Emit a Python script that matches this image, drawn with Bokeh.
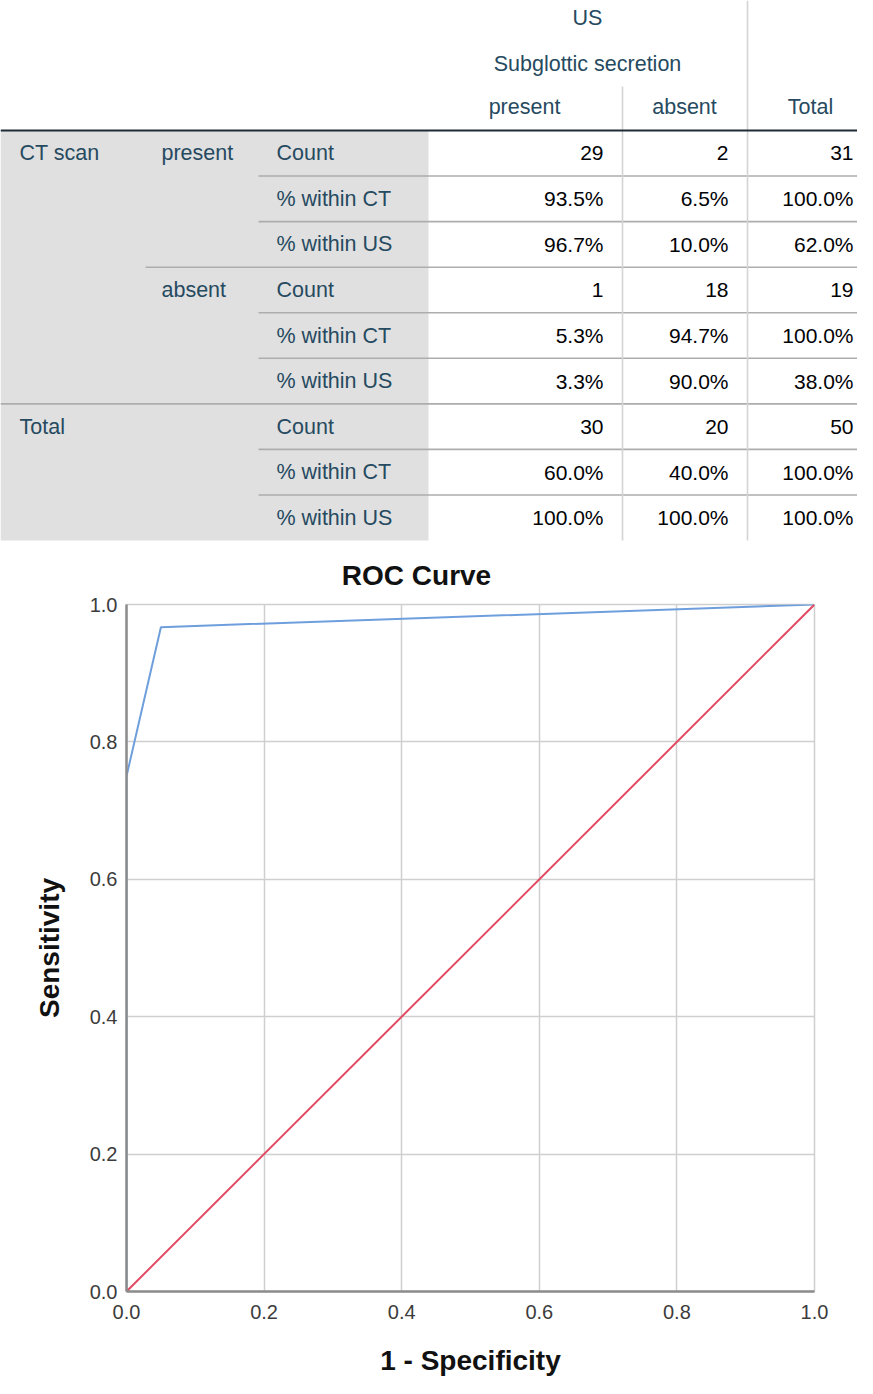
from bokeh.plotting import figure
from bokeh.layouts import column
from bokeh.models import Range1d, FixedTicker, NumeralTickFormatter
from bokeh.core.properties import value
from bokeh.embed import file_html
from bokeh.resources import INLINE

# ---------------- data ----------------
us_title = "US"
us_variable = "Subglottic secretion"
col_labels = ["present", "absent", "Total"]
row_var = "CT scan"
row_groups = ["present", "absent", "Total"]
stat_labels = ["Count", "% within CT", "% within US"]
counts = [[29, 2, 31], [1, 18, 19], [30, 20, 50]]
pct_within_ct = [[93.5, 6.5, 100.0], [5.3, 94.7, 100.0], [60.0, 40.0, 100.0]]
pct_within_us = [[96.7, 10.0, 62.0], [3.3, 90.0, 38.0], [100.0, 100.0, 100.0]]

roc_title = "ROC Curve"
x_label = "1 - Specificity"
y_label = "Sensitivity"
fpr = [0.0, 0.0, 0.05, 1.0]
tpr = [0.0, 0.75, 0.967, 1.0]
ref_fpr = [0.0, 1.0]
ref_tpr = [0.0, 1.0]
axis_ticks = [0.0, 0.2, 0.4, 0.6, 0.8, 1.0]

# ---------------- styling ----------------
FONT = "Liberation Sans"
LABEL_C = "#264a60"
DATA_C = "#010205"
FS = "21px"
FS_LABEL = "21.5px"
W = 857
TOP_H = 592

# ---------------- table figure ----------------
t = figure(width=W, height=TOP_H, x_range=Range1d(0, W), y_range=Range1d(TOP_H, 0),
           output_backend="svg", toolbar_location=None, x_axis_type=None, y_axis_type=None,
           min_border_left=0, min_border_right=0, min_border_top=0, min_border_bottom=0,
           outline_line_color=None, background_fill_color="white", border_fill_color="white",
           frame_align=False)
t.xgrid.visible = False
t.ygrid.visible = False

bounds = [0, 145, 258, 428, 622, 747, W]
head_y = 130
row_h = 45.56
n_rows = len(row_groups) * len(stat_labels)
table_bottom = head_y + n_rows * row_h

# grey label area
t.quad(left=[bounds[0]], right=[bounds[3]], top=[head_y], bottom=[table_bottom],
       fill_color="#e0e0e0", line_color=None)

# horizontal separators
hx0, hx1, hy = [], [], []
for i in range(1, n_rows):
    if i % len(stat_labels) == 0:
        start = bounds[0] if i // len(stat_labels) == len(row_groups) - 1 else bounds[1]
    else:
        start = bounds[2]
    hx0.append(start); hx1.append(W); hy.append(head_y + i * row_h)
t.segment(x0=hx0, y0=hy, x1=hx1, y1=hy, line_color="#adadad", line_width=1.6)

# vertical separators
t.segment(x0=[bounds[4], bounds[5]], y0=[86, 0], x1=[bounds[4], bounds[5]],
          y1=[table_bottom, table_bottom], line_color="#d4d4d4", line_width=1.6)

# header rule
t.segment(x0=[0], y0=[head_y], x1=[W], y1=[head_y], line_color="#1c2b36", line_width=2.2)

# header texts
t.text(x=[587, 587], y=[17, 63], text=[us_title, us_variable], text_align="center",
       text_baseline="middle", text_font=value(FONT), text_font_size=FS_LABEL, text_color=LABEL_C)
t.text(x=[524, 684, 810], y=[106] * 3, text=col_labels, text_align="center",
       text_baseline="middle", text_font=value(FONT), text_font_size=FS_LABEL, text_color=LABEL_C)

# row labels
lx, ly, lt = [], [], []
for g, grp in enumerate(row_groups):
    gy = head_y + (g * len(stat_labels) + 0.5) * row_h
    if g == 0:
        lx.append(19); ly.append(gy); lt.append(row_var)
    lx.append(19 if grp == "Total" else 161)
    ly.append(gy); lt.append(grp)
    for s, st in enumerate(stat_labels):
        lx.append(276); ly.append(head_y + (g * len(stat_labels) + s + 0.5) * row_h); lt.append(st)
t.text(x=lx, y=ly, text=lt, text_align="left", text_baseline="middle",
       text_font=value(FONT), text_font_size=FS_LABEL, text_color=LABEL_C)

# cell values
vx, vy, vt = [], [], []
right_edges = [603, 728, 853]
for g in range(len(row_groups)):
    for s, block in enumerate([counts, pct_within_ct, pct_within_us]):
        yy = head_y + (g * len(stat_labels) + s + 0.5) * row_h
        for c in range(len(col_labels)):
            v = block[g][c]
            vx.append(right_edges[c]); vy.append(yy)
            vt.append(str(v) if s == 0 else f"{v:.1f}%")
t.text(x=vx, y=vy, text=vt, text_align="right", text_baseline="middle",
       text_font=value(FONT), text_font_size=FS, text_color=DATA_C)

# chart title (drawn in top canvas)
t.text(x=[416], y=[575], text=[roc_title], text_align="center", text_baseline="middle",
       text_font=value(FONT), text_font_size="28px", text_font_style="bold", text_color="#111111")

# ---------------- ROC figure ----------------
R_H = 1378 - TOP_H
p = figure(width=W, height=R_H, x_range=Range1d(0, 1), y_range=Range1d(0, 1),
           output_backend="svg", toolbar_location=None,
           min_border_left=126, min_border_right=43, min_border_top=12,
           min_border_bottom=R_H - 12 - 687,
           background_fill_color="white", border_fill_color="white",
           outline_line_color="#cfcfcf", outline_line_width=1.5, frame_align=False)

p.line(fpr, tpr, line_color="#6e9fdc", line_width=2)
p.line(ref_fpr, ref_tpr, line_color="#e24a62", line_width=2)

for ax in (p.xaxis, p.yaxis):
    ax.ticker = FixedTicker(ticks=axis_ticks, minor_ticks=[])
    ax.formatter = NumeralTickFormatter(format="0.0")
    ax.major_tick_in = 0
    ax.major_tick_out = 0
    ax.minor_tick_in = 0
    ax.minor_tick_out = 0
    ax.axis_line_color = "#8c8c8c"
    ax.axis_line_width = 2.5
    ax.major_label_text_font = FONT
    ax.major_label_text_font_size = "20px"
    ax.major_label_text_color = "#3c3c3c"
    ax.axis_label_text_font = FONT
    ax.axis_label_text_font_size = "28px"
    ax.axis_label_text_font_style = "bold"
    ax.axis_label_text_color = "#111111"

p.xaxis.axis_label = x_label
p.yaxis.axis_label = y_label
p.xaxis.major_label_standoff = 13
p.xaxis.axis_label_standoff = 23
p.yaxis.major_label_standoff = 9
p.yaxis.axis_label_standoff = 22

p.xgrid.ticker = FixedTicker(ticks=axis_ticks)
p.ygrid.ticker = FixedTicker(ticks=axis_ticks)
p.grid.grid_line_color = "#cfcfcf"
p.grid.grid_line_width = 1.5

layout = column(t, p, spacing=0)
open("out.html", "w").write(file_html(layout, INLINE))
